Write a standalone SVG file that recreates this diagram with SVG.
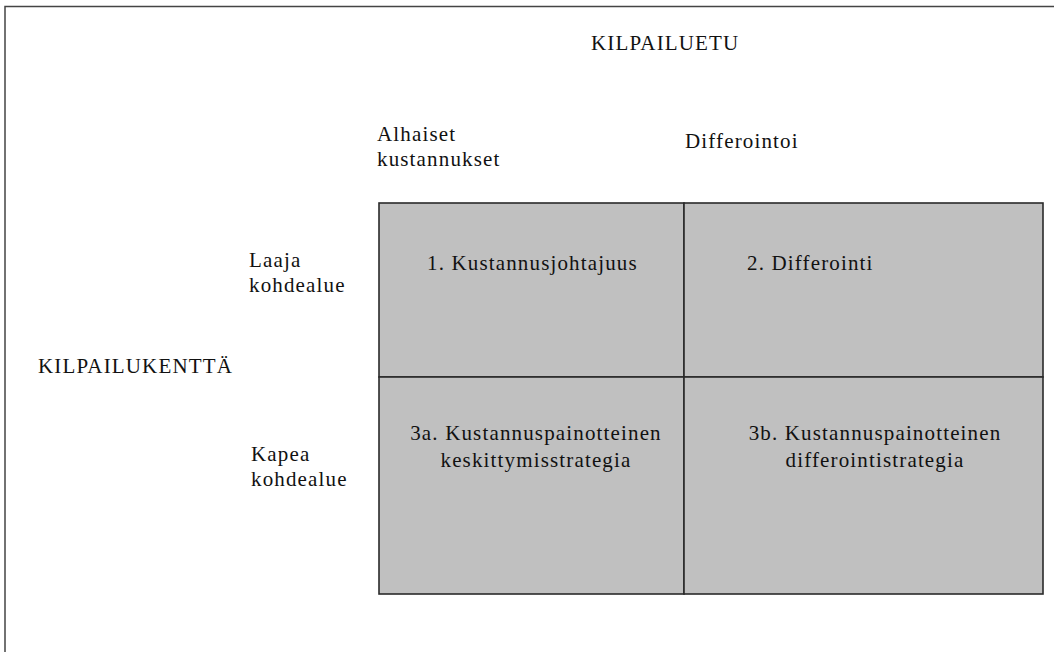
<svg xmlns="http://www.w3.org/2000/svg" width="1054" height="652" viewBox="0 0 1054 652">
  <style>
    .t { font-family: "Liberation Serif", "Times New Roman", serif; font-size: 21px; letter-spacing: 1.15px; fill: #111; }
    .c { text-anchor: middle; }
    .cell { fill: #c0c0c0; stroke: #2a2a2a; stroke-width: 1.6; }
    .frame { stroke: #444; stroke-width: 1.5; fill: none; }
  </style>
  <rect width="1054" height="652" fill="#fff"/>

  <!-- page frame: top and left rules -->
  <g id="frame">
    <path class="frame" d="M5 652 V6.5 H1054"/>
  </g>

  <!-- axis headings -->
  <g id="axis-advantage">
    <text class="t" x="591" y="50">KILPAILUETU</text>
  </g>
  <g id="col-low-cost">
    <text class="t" x="377" y="141">Alhaiset</text>
    <text class="t" x="377" y="166">kustannukset</text>
  </g>
  <g id="col-differentiate">
    <text class="t" x="685" y="148">Differointoi</text>
  </g>
  <g id="axis-scope">
    <text class="t" x="38" y="373">KILPAILUKENTTÄ</text>
  </g>
  <g id="row-broad">
    <text class="t" x="249" y="267">Laaja</text>
    <text class="t" x="249" y="292">kohdealue</text>
  </g>
  <g id="row-narrow">
    <text class="t" x="251" y="461">Kapea</text>
    <text class="t" x="251" y="486">kohdealue</text>
  </g>

  <!-- strategy cells -->
  <g id="cell-1">
    <rect class="cell" x="379" y="203" width="305" height="174"/>
    <text class="t" x="427" y="270">1. Kustannusjohtajuus</text>
  </g>
  <g id="cell-2">
    <rect class="cell" x="684" y="203" width="359" height="174"/>
    <text class="t" x="747" y="270">2. Differointi</text>
  </g>
  <g id="cell-3a">
    <rect class="cell" x="379" y="377" width="305" height="217"/>
    <text class="t c" x="536" y="440">3a. Kustannuspainotteinen</text>
    <text class="t c" x="536" y="467">keskittymisstrategia</text>
  </g>
  <g id="cell-3b">
    <rect class="cell" x="684" y="377" width="359" height="217"/>
    <text class="t c" x="875" y="440">3b. Kustannuspainotteinen</text>
    <text class="t c" x="875" y="467">differointistrategia</text>
  </g>

  <g id="connectors"/>
</svg>
